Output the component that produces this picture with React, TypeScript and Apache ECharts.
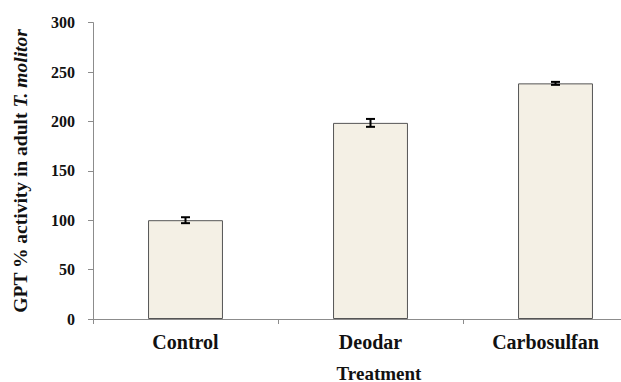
import React, { useEffect, useRef } from "react";
import * as echarts from "echarts";

// Treatment groups and GPT activity (% of control) with standard errors
const categories = ["Control", "Deodar", "Carbosulfan"];
const activity = [100, 198.5, 238.5];
const errors = [3, 4, 1.5];
const yTicks = [0, 50, 100, 150, 200, 250, 300];

const SERIF = "'Liberation Serif', 'Times New Roman', serif";

export default function App() {
  const ref = useRef<HTMLDivElement>(null);

  useEffect(() => {
    if (!ref.current) return;
    const chart = echarts.init(ref.current, undefined, { renderer: "svg" });

    const errorData = activity.map((v, i) => [i, v - errors[i], v + errors[i]]);

    chart.setOption({
      animation: false,
      backgroundColor: "#ffffff",
      grid: {
        left: 93,
        top: 22.6,
        width: 555,
        height: 296.4,
        containLabel: false,
        outerBoundsMode: "none",
      },
      xAxis: {
        type: "category",
        data: categories,
        boundaryGap: true,
        axisLine: { show: true, lineStyle: { color: "#8c8c8c", width: 1 } },
        axisTick: { show: true, length: 5, lineStyle: { color: "#8c8c8c" } },
        axisLabel: {
          interval: 0,
          hideOverlap: false,
          margin: 13,
          color: "#111",
          fontFamily: SERIF,
          fontWeight: "bold",
          fontSize: 20,
          formatter: (v: string) => (v === "Carbosulfan" ? `{shift|${v}}` : v),
          rich: {
            shift: {
              fontFamily: SERIF,
              fontWeight: "bold",
              fontSize: 20,
              color: "#111",
              padding: [0, 20, 0, 0],
            },
          },
        },
      },
      yAxis: {
        type: "value",
        min: yTicks[0],
        max: yTicks[yTicks.length - 1],
        interval: 50,
        splitLine: { show: false },
        axisLine: { show: true, lineStyle: { color: "#8c8c8c", width: 1 } },
        axisTick: { show: true, length: 5, lineStyle: { color: "#8c8c8c" } },
        axisLabel: {
          margin: 18,
          color: "#111",
          fontFamily: SERIF,
          fontWeight: "bold",
          fontSize: 16,
        },
      },
      graphic: [
        {
          type: "text",
          x: 20,
          y: 171,
          rotation: Math.PI / 2,
          style: {
            text: "{n|GPT % activity in adult }{i|T. molitor}",
            align: "center",
            verticalAlign: "middle",
            rich: {
              n: { fontFamily: SERIF, fontWeight: "bold", fontSize: 19.5, fill: "#111" },
              i: {
                fontFamily: SERIF,
                fontWeight: "bold",
                fontStyle: "italic",
                fontSize: 19.5,
                fill: "#111",
              },
            },
          },
        },
        {
          type: "text",
          x: 379,
          y: 373,
          style: {
            text: "Treatment",
            align: "center",
            verticalAlign: "middle",
            font: `bold 19px ${SERIF}`,
            fill: "#111",
          },
        },
      ],
      series: [
        {
          type: "bar",
          data: activity,
          barWidth: "40.5%",
          itemStyle: { color: "#f4f0e5", borderColor: "#555555", borderWidth: 1 },
        },
        {
          type: "custom",
          data: errorData,
          z: 10,
          renderItem: (params: any, api: any) => {
            const x = api.coord([api.value(0), 0])[0];
            const lo = api.coord([api.value(0), api.value(1)])[1];
            const hi = api.coord([api.value(0), api.value(2)])[1];
            const half = 4.5;
            const style = { stroke: "#000", lineWidth: 2 };
            return {
              type: "group",
              children: [
                { type: "line", shape: { x1: x, y1: lo, x2: x, y2: hi }, style },
                { type: "line", shape: { x1: x - half, y1: lo, x2: x + half, y2: lo }, style },
                { type: "line", shape: { x1: x - half, y1: hi, x2: x + half, y2: hi }, style },
              ],
            };
          },
        },
      ],
    });

    return () => chart.dispose();
  }, []);

  return <div ref={ref} style={{ width: 621, height: 382, position: "absolute", left: 0, top: 0 }} />;
}
